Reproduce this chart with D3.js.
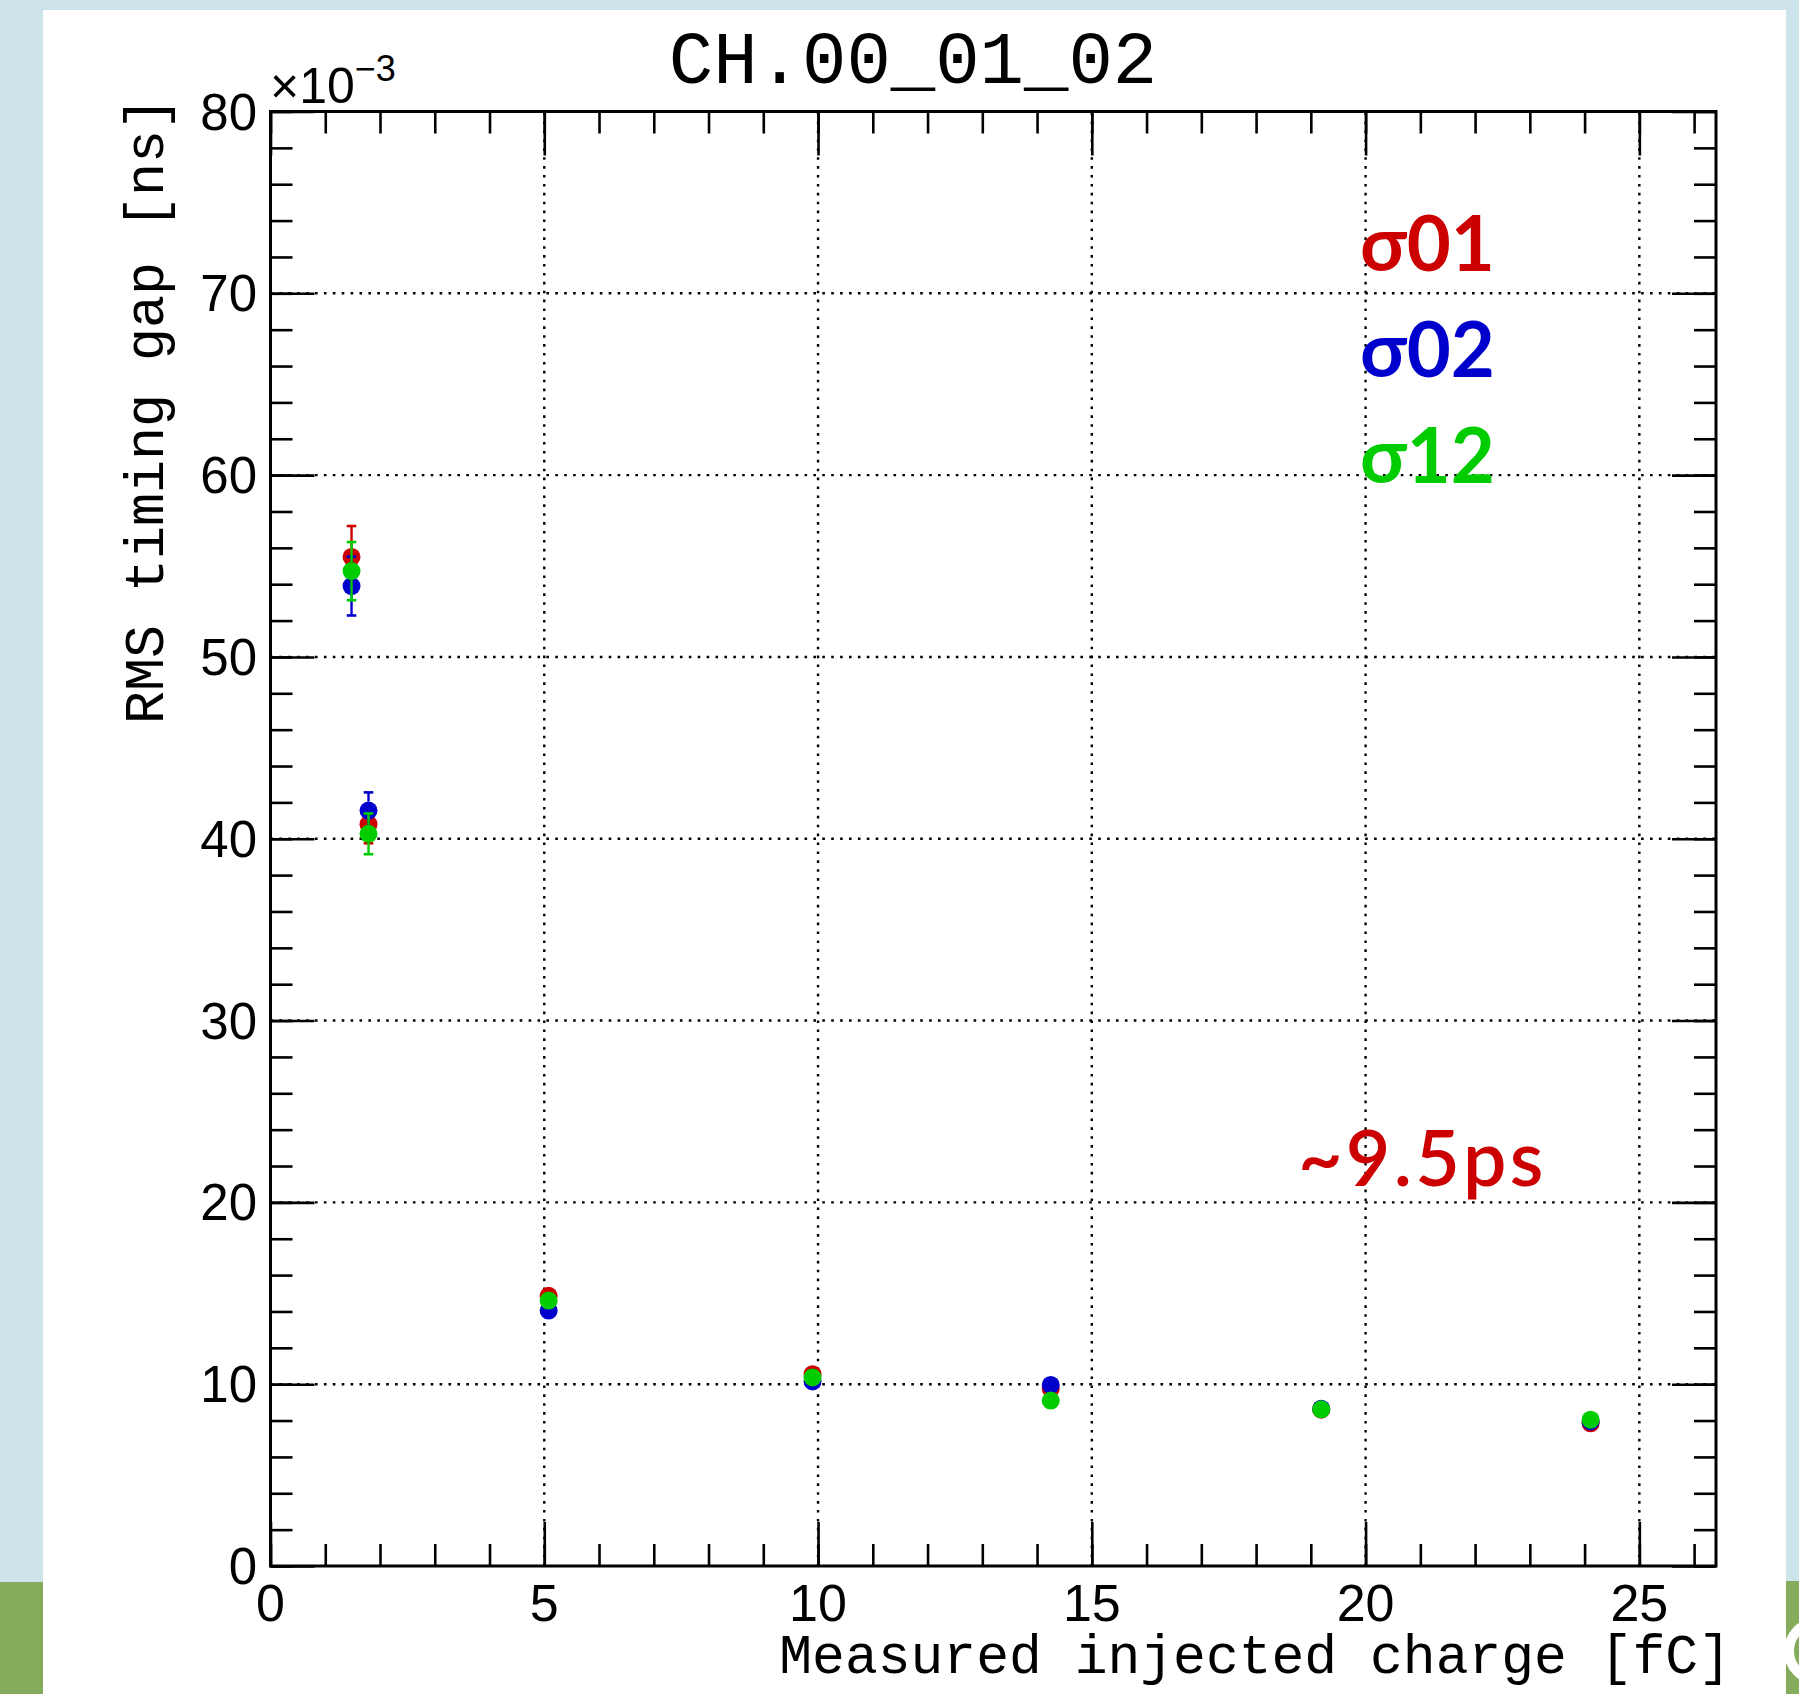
<!DOCTYPE html>
<html>
<head>
<meta charset="utf-8">
<script src="https://cdn.jsdelivr.net/npm/d3@7"></script>
<style>
  html, body { margin: 0; padding: 0; background: #ffffff; }
  svg { display: block; }
</style>
</head>
<body>
<div id="chart"></div>
<script>
// ---- data ----
const charge = [1.48, 1.79, 5.08, 9.90, 14.25, 19.19, 24.11];
const sigma01 = [55.5, 40.8, 14.86, 10.55, 9.75, 8.60, 7.85];
const sigma02 = [53.9, 41.55, 14.05, 10.15, 9.96, 8.65, 7.95];
const sigma12 = [54.72, 40.27, 14.60, 10.37, 9.10, 8.62, 8.05];
const err01 = [1.70, 1.05, 0.35, 0.25, 0.20, 0.15, 0.15];
const err02 = [1.62, 1.00, 0.35, 0.25, 0.20, 0.15, 0.15];
const err12 = [1.60, 1.12, 0.35, 0.25, 0.20, 0.15, 0.15];
const seriesNames = ["σ01", "σ02", "σ12"];
const seriesColors = ["#cc0000", "#0000cc", "#00cc00"];
const xTicks = [0, 5, 10, 15, 20, 25];
const yTicks = [0, 10, 20, 30, 40, 50, 60, 70, 80];
const titleText = "CH.00_01_02";
const xTitle = "Measured injected charge [fC]";
const yTitle = "RMS timing gap [ns]";
const noteText = "~9.5ps";

const W = 1799, H = 1694;
const L = 270.5, R = 1716, T = 111.5, B = 1566;

const svg = d3.select("#chart").append("svg")
  .attr("width", W).attr("height", H);

// background decorations
svg.append("rect").attr("x", 0).attr("y", 0).attr("width", W).attr("height", H).attr("fill", "#ffffff");
svg.append("rect").attr("x", 0).attr("y", 0).attr("width", W).attr("height", 10).attr("fill", "#cde3ea");
svg.append("rect").attr("x", 0).attr("y", 0).attr("width", 43).attr("height", 1582).attr("fill", "#cde3ea");
svg.append("rect").attr("x", 0).attr("y", 1582).attr("width", 43).attr("height", H - 1582).attr("fill", "#84ac5c");
svg.append("rect").attr("x", 1786).attr("y", 0).attr("width", W - 1786).attr("height", 1581).attr("fill", "#cde3ea");
svg.append("rect").attr("x", 1786).attr("y", 1581).attr("width", W - 1786).attr("height", H - 1581).attr("fill", "#84ac5c");
svg.append("circle").attr("cx", 1818).attr("cy", 1651).attr("r", 29)
  .attr("fill", "none").attr("stroke", "#ffffff").attr("stroke-width", 10);

const x = d3.scaleLinear().domain([0, 26.4]).range([L, R]);
const y = d3.scaleLinear().domain([0, 80]).range([B, T]);

// grid
const grid = svg.append("g").attr("stroke", "#000").attr("stroke-width", 2.4)
  .attr("stroke-dasharray", "2.6 6.3").attr("fill", "none");
xTicks.filter(t => t > 0).forEach(t => {
  grid.append("line").attr("x1", x(t)).attr("x2", x(t)).attr("y1", B).attr("y2", T);
});
yTicks.filter(t => t > 0 && t < 80).forEach(t => {
  grid.append("line").attr("x1", L).attr("x2", R).attr("y1", y(t)).attr("y2", y(t));
});

// axes via d3 axis generators
const xMinor = d3.range(0, 26.4, 1);
const yMinor = d3.range(0, 80.01, 2);
function styleAxis(g) {
  g.select(".domain").remove();
  g.selectAll(".tick line").attr("stroke", "#000").attr("stroke-width", 2.6);
}
// bottom
svg.append("g").attr("transform", `translate(0,${B})`)
  .call(d3.axisTop(x).tickValues(xTicks).tickSize(44).tickFormat(""))
  .call(styleAxis);
svg.append("g").attr("transform", `translate(0,${B})`)
  .call(d3.axisTop(x).tickValues(xMinor).tickSize(22).tickFormat(""))
  .call(styleAxis);
// top
svg.append("g").attr("transform", `translate(0,${T})`)
  .call(d3.axisBottom(x).tickValues(xTicks).tickSize(44).tickFormat(""))
  .call(styleAxis);
svg.append("g").attr("transform", `translate(0,${T})`)
  .call(d3.axisBottom(x).tickValues(xMinor).tickSize(22).tickFormat(""))
  .call(styleAxis);
// left
svg.append("g").attr("transform", `translate(${L},0)`)
  .call(d3.axisRight(y).tickValues(yTicks).tickSize(44).tickFormat(""))
  .call(styleAxis);
svg.append("g").attr("transform", `translate(${L},0)`)
  .call(d3.axisRight(y).tickValues(yMinor).tickSize(22).tickFormat(""))
  .call(styleAxis);
// right
svg.append("g").attr("transform", `translate(${R},0)`)
  .call(d3.axisLeft(y).tickValues(yTicks).tickSize(44).tickFormat(""))
  .call(styleAxis);
svg.append("g").attr("transform", `translate(${R},0)`)
  .call(d3.axisLeft(y).tickValues(yMinor).tickSize(22).tickFormat(""))
  .call(styleAxis);

// frame
svg.append("rect").attr("x", L).attr("y", T).attr("width", R - L).attr("height", B - T)
  .attr("fill", "none").attr("stroke", "#000").attr("stroke-width", 3);

// tick labels
const labFont = "'Liberation Sans', Arial, Helvetica, sans-serif";
svg.append("g").selectAll("text").data(xTicks).join("text")
  .attr("x", d => x(d)).attr("y", 1621)
  .attr("text-anchor", "middle")
  .attr("font-family", labFont).attr("font-size", 52)
  .text(d => d);
svg.append("g").selectAll("text").data(yTicks).join("text")
  .attr("x", 257).attr("y", d => y(d) + 18)
  .attr("text-anchor", "end")
  .attr("font-family", labFont).attr("font-size", 51)
  .text(d => d);
// exponent
const ex = svg.append("text").attr("x", 270).attr("y", 103)
  .attr("font-family", labFont).attr("font-size", 50);
ex.append("tspan").text("×10");
ex.append("tspan").attr("dy", -22).attr("font-size", 36).text("−3");

// titles
const monoFont = "'Liberation Mono', 'Courier New', Courier, monospace";
svg.append("text").attr("x", 913).attr("y", 83).attr("text-anchor", "middle")
  .attr("font-family", monoFont).attr("font-size", 74).text(titleText);
svg.append("text").attr("x", 1731).attr("y", 1673).attr("text-anchor", "end")
  .attr("font-family", monoFont).attr("font-size", 54.7).text(xTitle);
svg.append("text").attr("transform", "translate(163,97) rotate(-90)")
  .attr("text-anchor", "end")
  .attr("font-family", monoFont).attr("font-size", 55).text(yTitle);

// data series
const r = 9;
const allVals = [sigma01, sigma02, sigma12];
const allErr = [err01, err02, err12];
allVals.forEach((vals, si) => {
  const col = seriesColors[si];
  const pts = charge.map((c, i) => ({ c, v: vals[i], e: allErr[si][i] }));
  const g = svg.append("g");
  // error bars (outside marker only)
  pts.forEach(p => {
    const cx = x(p.c), cy = y(p.v);
    const yt = y(p.v + p.e), yb = y(p.v - p.e);
    if (cy - yt > r) {
      g.append("line").attr("x1", cx).attr("x2", cx).attr("y1", cy - r).attr("y2", yt)
        .attr("stroke", col).attr("stroke-width", 2.4);
      g.append("line").attr("x1", cx - 4.8).attr("x2", cx + 4.8).attr("y1", yt).attr("y2", yt)
        .attr("stroke", col).attr("stroke-width", 2.6);
    }
    if (yb - cy > r) {
      g.append("line").attr("x1", cx).attr("x2", cx).attr("y1", cy + r).attr("y2", yb)
        .attr("stroke", col).attr("stroke-width", 2.4);
      g.append("line").attr("x1", cx - 4.8).attr("x2", cx + 4.8).attr("y1", yb).attr("y2", yb)
        .attr("stroke", col).attr("stroke-width", 2.6);
    }
  });
  g.selectAll("circle").data(pts).join("circle")
    .attr("cx", d => x(d.c)).attr("cy", d => y(d.v)).attr("r", r)
    .attr("fill", col);
});

// legend-like annotations
const annFont = "Lato, 'Open Sans', sans-serif";
const legY = [271, 377, 483];
seriesNames.forEach((n, i) => {
  svg.append("text").attr("x", 1360).attr("y", legY[i])
    .attr("font-family", annFont).attr("font-weight", 700).attr("font-size", 76)
    .attr("fill", seriesColors[i]).text(n);
});
svg.append("text").attr("x", 1298).attr("y", 1186)
  .attr("font-family", annFont).attr("font-weight", 600).attr("font-size", 77)
  .attr("letter-spacing", 3.2)
  .attr("fill", "#cc0000").text(noteText);
</script>
</body>
</html>
